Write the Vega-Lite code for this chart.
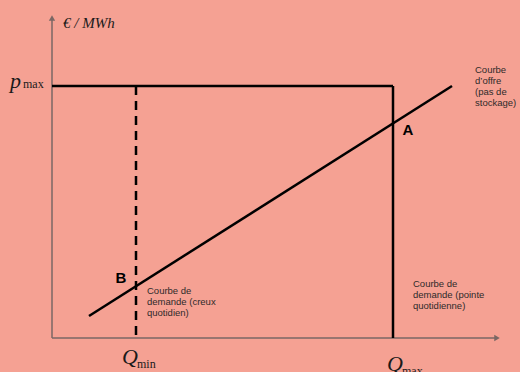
{
  "$schema": "https://vega.github.io/schema/vega-lite/v6.json",
  "width": 520,
  "height": 372,
  "padding": 0,
  "autosize": {"type": "fit", "contains": "padding"},
  "background": "#F5A193",
  "config": {"view": {"stroke": null}},
  "datasets": {
    "axes": [
      {"x": 52, "y": 34, "x2": 52, "y2": 354},
      {"x": 52, "y": 34, "x2": 497, "y2": 34}
    ],
    "arrows": [
      {"x": 52, "y": 354, "shape": "triangle-up"},
      {"x": 497, "y": 34, "shape": "triangle-right"}
    ],
    "solid": [
      {"x": 52, "y": 286, "x2": 393, "y2": 286},
      {"x": 393, "y": 286, "x2": 393, "y2": 34}
    ],
    "dashed": [
      {"x": 136, "y": 286, "x2": 136, "y2": 34}
    ],
    "offer": [
      {"x": 89, "y": 56},
      {"x": 452, "y": 286}
    ],
    "small": [
      {"x": 475, "y": 307, "text": "Courbe\nd’offre\n(pas de\nstockage)"},
      {"x": 147, "y": 86, "text": "Courbe de\ndemande (creux\nquotidien)"},
      {"x": 413, "y": 93, "text": "Courbe de\ndemande (pointe\nquotidienne)"}
    ],
    "letters": [
      {"x": 408, "y": 242, "text": "A"},
      {"x": 121, "y": 94, "text": "B"}
    ],
    "bigsym": [
      {"x": 10, "y": 284, "text": "p"},
      {"x": 122, "y": 8, "text": "Q"},
      {"x": 387, "y": 1, "text": "Q"}
    ],
    "subs": [
      {"x": 23, "y": 284, "text": "max"},
      {"x": 137, "y": 4, "text": "min"},
      {"x": 402, "y": -3, "text": "max"}
    ],
    "unit": [
      {"x": 63, "y": 344, "text": "€ / MWh"}
    ]
  },
  "layer": [
    {
      "data": {"name": "axes"},
      "mark": {"type": "rule", "color": "#7a6764", "strokeWidth": 1.5},
      "encoding": {
        "x": {"field": "x", "type": "quantitative", "scale": {"domain": [0, 520], "nice": false, "zero": false}, "axis": null},
        "y": {"field": "y", "type": "quantitative", "scale": {"domain": [0, 372], "nice": false, "zero": false}, "axis": null},
        "x2": {"field": "x2"},
        "y2": {"field": "y2"}
      }
    },
    {
      "data": {"name": "arrows"},
      "mark": {"type": "point", "filled": true, "color": "#7a6764", "size": 40, "opacity": 1},
      "encoding": {
        "x": {"field": "x", "type": "quantitative"},
        "y": {"field": "y", "type": "quantitative"},
        "shape": {"field": "shape", "type": "nominal", "scale": null}
      }
    },
    {
      "data": {"name": "solid"},
      "mark": {"type": "rule", "color": "#000000", "strokeWidth": 2.5},
      "encoding": {
        "x": {"field": "x", "type": "quantitative"},
        "y": {"field": "y", "type": "quantitative"},
        "x2": {"field": "x2"},
        "y2": {"field": "y2"}
      }
    },
    {
      "data": {"name": "dashed"},
      "mark": {"type": "rule", "color": "#000000", "strokeWidth": 2.5, "strokeDash": [9, 6]},
      "encoding": {
        "x": {"field": "x", "type": "quantitative"},
        "y": {"field": "y", "type": "quantitative"},
        "x2": {"field": "x2"},
        "y2": {"field": "y2"}
      }
    },
    {
      "data": {"name": "offer"},
      "mark": {"type": "line", "color": "#000000", "strokeWidth": 2.5},
      "encoding": {
        "x": {"field": "x", "type": "quantitative"},
        "y": {"field": "y", "type": "quantitative"}
      }
    },
    {
      "data": {"name": "small"},
      "mark": {"type": "text", "align": "left", "baseline": "top", "font": "Liberation Sans", "fontSize": 9.5, "lineHeight": 11, "lineBreak": "\n", "color": "#2e2a2a", "clip": true},
      "encoding": {
        "x": {"field": "x", "type": "quantitative"},
        "y": {"field": "y", "type": "quantitative"},
        "text": {"field": "text"}
      }
    },
    {
      "data": {"name": "letters"},
      "mark": {"type": "text", "align": "center", "baseline": "middle", "font": "Liberation Sans", "fontSize": 15, "fontWeight": "bold", "color": "#000000", "clip": true},
      "encoding": {
        "x": {"field": "x", "type": "quantitative"},
        "y": {"field": "y", "type": "quantitative"},
        "text": {"field": "text"}
      }
    },
    {
      "data": {"name": "bigsym"},
      "mark": {"type": "text", "align": "left", "baseline": "alphabetic", "font": "Liberation Serif", "fontSize": 22, "fontStyle": "italic", "color": "#1a1a1a", "clip": true},
      "encoding": {
        "x": {"field": "x", "type": "quantitative"},
        "y": {"field": "y", "type": "quantitative"},
        "text": {"field": "text"}
      }
    },
    {
      "data": {"name": "subs"},
      "mark": {"type": "text", "align": "left", "baseline": "alphabetic", "font": "Liberation Serif", "fontSize": 12, "color": "#1a1a1a", "clip": true},
      "encoding": {
        "x": {"field": "x", "type": "quantitative"},
        "y": {"field": "y", "type": "quantitative"},
        "text": {"field": "text"}
      }
    },
    {
      "data": {"name": "unit"},
      "mark": {"type": "text", "align": "left", "baseline": "alphabetic", "font": "Liberation Serif", "fontSize": 15, "fontStyle": "italic", "color": "#1a1a1a", "clip": true},
      "encoding": {
        "x": {"field": "x", "type": "quantitative"},
        "y": {"field": "y", "type": "quantitative"},
        "text": {"field": "text"}
      }
    }
  ]
}
